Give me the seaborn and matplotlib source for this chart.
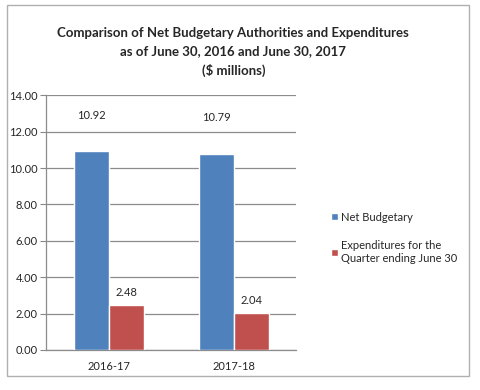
import pandas as pd
import seaborn as sns
import matplotlib.pyplot as plt
from matplotlib.patches import Rectangle

years = ['2016-17', '2017-18']
net_budgetary = [10.92, 10.79]
expenditures = [2.48, 2.04]
series_names = ['Net Budgetary', 'Expenditures for the\nQuarter ending June 30']
colors = ['#4F81BD', '#C0504D']

df = pd.DataFrame({
    'year': years * 2,
    'value': net_budgetary + expenditures,
    'series': [series_names[0]] * 2 + [series_names[1]] * 2,
})

sns.set_style('white')
plt.rcParams['font.family'] = ['Lato', 'DejaVu Sans']

fig = plt.figure(figsize=(4.8, 3.9), dpi=100)
ax = fig.add_axes([0.096, 0.1026, 0.521, 0.653])

sns.barplot(data=df, x='year', y='value', hue='series', palette=colors,
            width=0.56, saturation=1, ax=ax, zorder=3)

ax.set_ylim(0, 14)
ax.set_yticks(range(0, 15, 2))
ax.set_yticklabels([f'{v:.2f}' for v in range(0, 15, 2)], fontsize=8)
ax.tick_params(axis='x', labelsize=8, length=0, pad=8)
ax.tick_params(axis='y', length=4, color='#888888', direction='out', left=True, pad=2)
ax.set_xlabel('')
ax.set_ylabel('')
ax.grid(axis='y', color='#8c8c8c', linewidth=0.9, zorder=0)
for side in ['top', 'right']:
    ax.spines[side].set_visible(False)
for side in ['left', 'bottom']:
    ax.spines[side].set_color('#8c8c8c')
    ax.spines[side].set_linewidth(0.9)

# data labels (Excel-style placement)
ax.bar_label(ax.containers[0], fmt='%.2f', padding=22, fontsize=8)
ax.bar_label(ax.containers[1], fmt='%.2f', padding=5, fontsize=8)

ax.legend(loc='center left', bbox_to_anchor=(1.1, 0.44), frameon=False,
          fontsize=8, handlelength=0.6, handleheight=0.6, handletextpad=0.3,
          labelspacing=1.6)

fig.text(0.486, 0.867,
         'Comparison of Net Budgetary Authorities and Expenditures\n'
         'as of June 30, 2016 and June 30, 2017\n($ millions)',
         ha='center', va='center', fontsize=9.5, fontweight='bold',
         linespacing=1.6)

# chart border
fig.patches.append(Rectangle((0.015, 0.036), 0.963, 0.952, transform=fig.transFigure,
                             fill=False, edgecolor='#b0b0b0', linewidth=1))

fig.savefig('out.png', dpi=100)
